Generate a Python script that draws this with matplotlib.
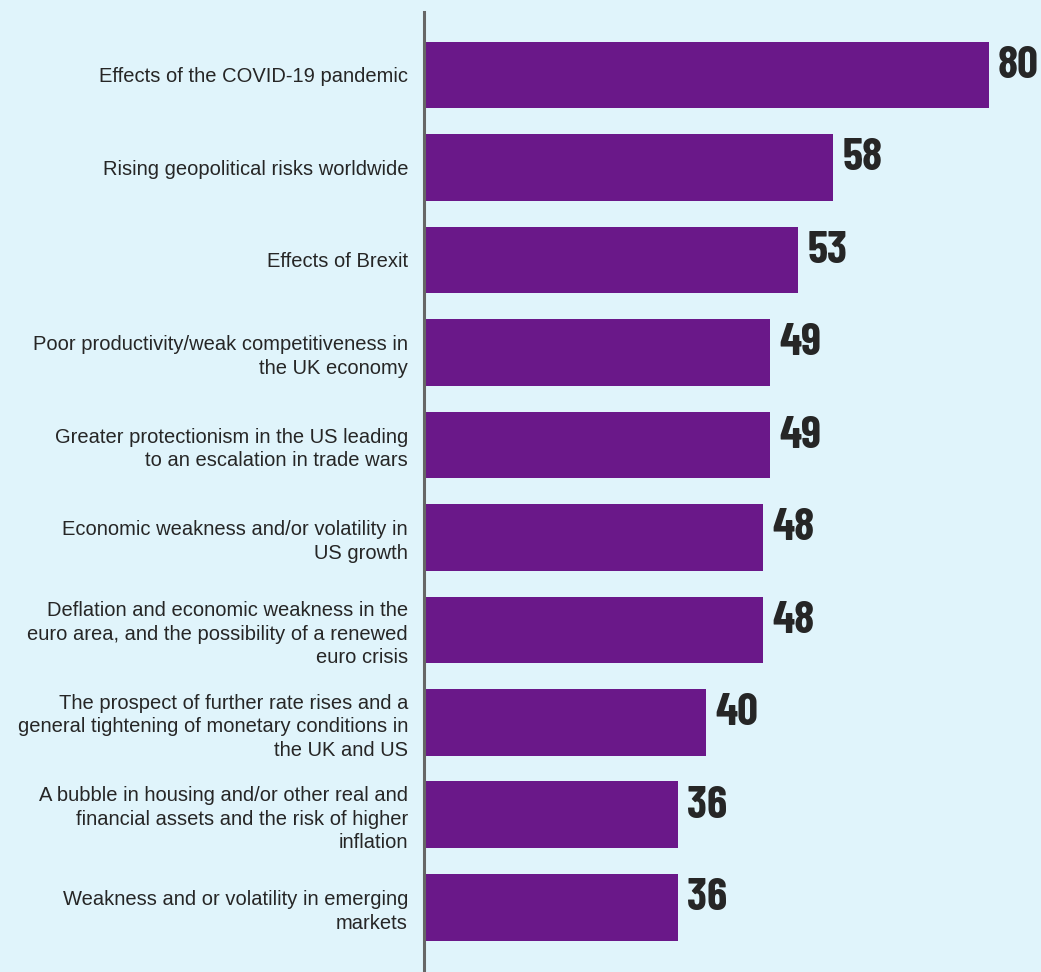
import matplotlib.pyplot as plt
from matplotlib import font_manager

# Share of respondents citing each risk to the outlook
RISKS = [
    'Effects of the COVID-19 pandemic',
    'Rising geopolitical risks worldwide',
    'Effects of Brexit',
    'Poor productivity/weak competitiveness in\nthe UK economy',
    'Greater protectionism in the US leading\nto an escalation in trade wars',
    'Economic weakness and/or volatility in\nUS growth',
    'Deflation and economic weakness in the\neuro area, and the possibility of a renewed\neuro crisis',
    'The prospect of further rate rises and a\ngeneral tightening of monetary conditions in\nthe UK and US',
    'A bubble in housing and/or other real and\nfinancial assets and the risk of higher\ninflation',
    'Weakness and or volatility in emerging\nmarkets',
]
SCORES = [80, 58, 53, 49, 49, 48, 48, 40, 36, 36]

BG = '#e0f4fb'
BAR = '#6a1889'
INK = '#262626'


def pick_condensed():
    # first bold condensed face that is actually on this machine
    have = {(f.name, f.weight) for f in font_manager.fontManager.ttflist}
    wanted = [('Barlow Condensed', 700), ('Saira Condensed', 700),
              ('Fjalla One', 400), ('Roboto Condensed', 700),
              ('Liberation Sans Narrow', 700)]
    for name, w in wanted:
        if (name, w) in have:
            return name, w
    return 'DejaVu Sans', 700


num_font, num_weight = pick_condensed()

fig = plt.figure(figsize=(10.41, 9.72), dpi=100, facecolor=BG)
ax = fig.add_axes([424 / 1041, 0, 1 - 424 / 1041, 1 - 12 / 972])
ax.set_facecolor(BG)

pos = list(range(len(SCORES)))
ax.barh(pos, SCORES, height=0.72, color=BAR, left=0)

for y, v in zip(pos, SCORES):
    ax.annotate(str(v), xy=(v, y + 0.03), xytext=(6.5, 0), textcoords='offset points',
                ha='left', va='baseline', fontsize=33, fontweight=num_weight,
                family=num_font, color=INK)

ax.set_yticks(pos)
ax.set_yticklabels(RISKS, fontsize=14.5, family='Liberation Sans', color=INK,
                   linespacing=1.3)
ax.tick_params(axis='y', length=0, pad=11.5)
ax.set_xticks([])

ax.set_xlim(0, (1041 - 424) / 7.06)
ax.set_ylim(len(SCORES) - 1 + 0.70, -0.68)

for side in ['top', 'right', 'bottom']:
    ax.spines[side].set_visible(False)
ax.spines['left'].set_color('#666666')
ax.spines['left'].set_linewidth(2.2)

fig.savefig('out.png', dpi=100, facecolor=BG)
